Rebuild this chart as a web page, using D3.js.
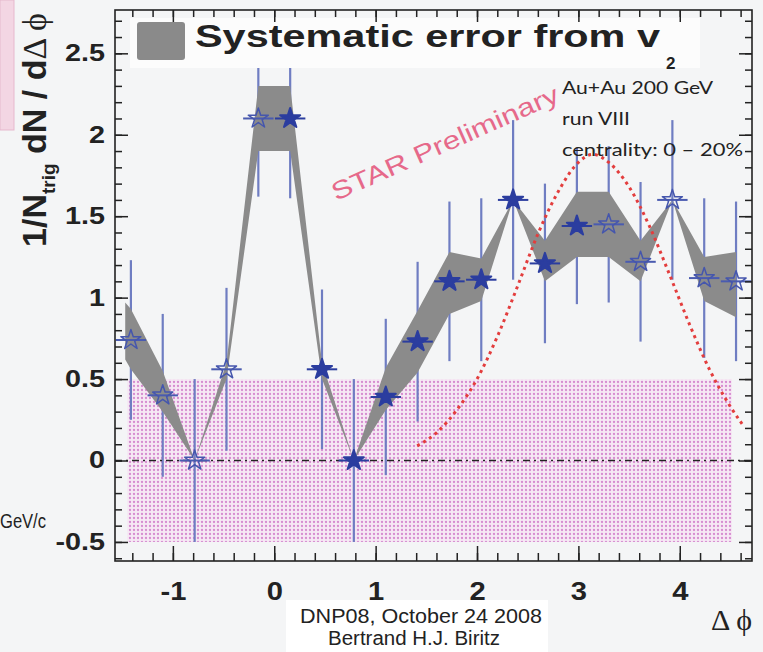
<!DOCTYPE html>
<html>
<head>
<meta charset="utf-8">
<script src="https://cdn.jsdelivr.net/npm/d3@7"></script>
<style>
  body { margin: 0; background: #f4f5f6; }
  svg { display: block; }
</style>
</head>
<body>
<div id="chart"></div>
<script>
const width = 763;
const height = 652;

// measured points (filled stars) and their reflections (open stars)
const phiFilled = [0.157, 0.471, 0.785, 1.100, 1.414, 1.728, 2.042, 2.356, 2.670, 2.985];
const valFilled = [2.10, 0.56, 0.00, 0.39, 0.73, 1.10, 1.11, 1.60, 1.21, 1.44];
const errFilled = [0.49, 0.49, 0.50, 0.48, 0.49, 0.49, 0.50, 0.49, 0.49, 0.48];

const phiOpen = [-1.414, -1.100, -0.785, -0.471, -0.157, 3.299, 3.613, 3.927, 4.241, 4.555];
const valOpen = [0.74, 0.40, 0.00, 0.56, 2.10, 1.45, 1.22, 1.60, 1.12, 1.10];
const errOpen = [0.49, 0.50, 0.50, 0.50, 0.48, 0.48, 0.49, 0.49, 0.49, 0.49];

// systematic band from v2
const bandPhi = [-1.47, -1.414, -1.100, -0.785, -0.471, -0.157, 0.157, 0.471, 0.785, 1.100, 1.414, 1.728, 2.042, 2.356, 2.670, 2.985, 3.299, 3.613, 3.927, 4.241, 4.555];
const bandLo  = [0.62, 0.56, 0.30, 0.00, 0.50, 1.90, 1.90, 0.50, 0.00, 0.31, 0.54, 0.90, 0.98, 1.60, 1.10, 1.25, 1.25, 1.10, 1.60, 0.98, 0.88];
const bandHi  = [0.97, 0.93, 0.55, 0.00, 0.60, 2.30, 2.30, 0.60, 0.00, 0.57, 0.92, 1.28, 1.24, 1.60, 1.35, 1.65, 1.65, 1.35, 1.60, 1.25, 1.28];

// red dotted curve
const curvePhi = [1.41, 1.6, 1.8, 2.0, 2.2, 2.4, 2.6, 2.8, 3.0, 3.14, 3.3, 3.5, 3.7, 3.9, 4.1, 4.3, 4.5, 4.62];
const curveVal = [0.09, 0.17, 0.31, 0.50, 0.76, 1.07, 1.39, 1.65, 1.83, 1.88, 1.83, 1.68, 1.44, 1.14, 0.83, 0.55, 0.33, 0.22];

// ZYAM box
const boxPhi = [-1.45, 4.515];
const boxVal = [-0.5, 0.5];

const xTicks = [-1, 0, 1, 2, 3, 4];
const yTicks = [-0.5, 0, 0.5, 1, 1.5, 2, 2.5];
const infoLines = ['Au+Au 200 GeV', 'run VIII', 'centrality: 0 \u2013 20%'];

const pLeft = 115, pRight = 752, pTop = 10, pBottom = 561;
const halfBin = 0.15;

const x = d3.scaleLinear().domain([-Math.PI / 2, 3 * Math.PI / 2]).range([pLeft, pRight]);
const y = d3.scaleLinear().domain([-0.617, 2.766]).range([pBottom, pTop]);

const svg = d3.select('#chart')
    .append('svg')
    .attr('width', width)
    .attr('height', height);

svg.append('rect').attr('width', width).attr('height', height).attr('fill', '#f4f5f6');

// slide leftovers on the left side
svg.append('rect').attr('x', 0).attr('y', 0).attr('width', 14).attr('height', 130)
    .attr('fill', '#f3d6e3').attr('stroke', '#e6b9cd');
svg.append('text').attr('x', 0).attr('y', 528)
    .attr('font-family', 'Liberation Sans, Arial, sans-serif').attr('font-size', 20)
    .attr('textLength', 46).attr('lengthAdjust', 'spacingAndGlyphs')
    .attr('fill', '#222').text('GeV/c');

const defs = svg.append('defs');
const pat = defs.append('pattern').attr('id', 'dots')
    .attr('patternUnits', 'userSpaceOnUse').attr('width', 4).attr('height', 4);
pat.append('rect').attr('width', 4).attr('height', 4).attr('fill', '#f6e8f4');
pat.append('circle').attr('cx', 2).attr('cy', 2).attr('r', 1.15).attr('fill', '#d68cd0');

defs.append('clipPath').attr('id', 'frame').append('rect')
    .attr('x', pLeft).attr('y', pTop).attr('width', pRight - pLeft).attr('height', pBottom - pTop);

const plot = svg.append('g').attr('clip-path', 'url(#frame)');

// ZYAM box
plot.append('rect')
    .attr('x', x(boxPhi[0])).attr('y', y(boxVal[1]))
    .attr('width', x(boxPhi[1]) - x(boxPhi[0]))
    .attr('height', y(boxVal[0]) - y(boxVal[1]))
    .attr('fill', 'url(#dots)');

const points = phiFilled.map((p, i) => ({ phi: p, v: valFilled[i], e: errFilled[i], open: false }))
    .concat(phiOpen.map((p, i) => ({ phi: p, v: valOpen[i], e: errOpen[i], open: true })));

// vertical error bars
plot.selectAll('line.err')
    .data(points)
    .join('line')
    .attr('class', 'err')
    .attr('x1', d => x(d.phi)).attr('x2', d => x(d.phi))
    .attr('y1', d => y(d.v - d.e)).attr('y2', d => y(d.v + d.e))
    .attr('stroke', '#6f7dc2').attr('stroke-width', 2.2);

// systematic band
const band = bandPhi.map((p, i) => ({ phi: p, lo: bandLo[i], hi: bandHi[i] }));
plot.append('path')
    .datum(band)
    .attr('d', d3.area().x(d => x(d.phi)).y0(d => y(d.lo)).y1(d => y(d.hi)))
    .attr('fill', '#8b8b8b');

// zero line
plot.append('line')
    .attr('x1', x(-Math.PI / 2)).attr('x2', x(3 * Math.PI / 2))
    .attr('y1', y(0)).attr('y2', y(0))
    .attr('stroke', '#222').attr('stroke-width', 1.6)
    .attr('stroke-dasharray', '7,4,2,4');

// red dotted curve
plot.append('path')
    .datum(curvePhi.map((p, i) => [p, curveVal[i]]))
    .attr('d', d3.line().x(d => x(d[0])).y(d => y(d[1])).curve(d3.curveMonotoneX))
    .attr('fill', 'none')
    .attr('stroke', '#e33d3d')
    .attr('stroke-width', 3)
    .attr('stroke-dasharray', '3,4');

// horizontal bars and stars
plot.selectAll('line.herr')
    .data(points)
    .join('line')
    .attr('class', 'herr')
    .attr('x1', d => x(d.phi - halfBin)).attr('x2', d => x(d.phi + halfBin))
    .attr('y1', d => y(d.v)).attr('y2', d => y(d.v))
    .attr('stroke', d => d.open ? '#4a5bb0' : '#2b3d9f').attr('stroke-width', 2);

const star = d3.symbol().type(d3.symbolStar).size(125);
plot.selectAll('path.star')
    .data(points)
    .join('path')
    .attr('class', 'star')
    .attr('transform', d => `translate(${x(d.phi)},${y(d.v)})`)
    .attr('d', star)
    .attr('fill', d => d.open ? 'none' : '#2b3d9f')
    .attr('stroke', d => d.open ? '#4556ad' : '#2b3d9f')
    .attr('stroke-width', d => d.open ? 1.5 : 2)
    .attr('stroke-linejoin', 'round');

// legend
svg.append('rect').attr('x', 130).attr('y', 18).attr('width', 570).attr('height', 50).attr('fill', '#fcfcfc');
svg.append('rect').attr('x', 137).attr('y', 22).attr('width', 48).attr('height', 38).attr('rx', 3)
    .attr('fill', '#8a8a8a');
svg.append('text')
    .attr('x', 195).attr('y', 47)
    .attr('font-family', 'Liberation Sans, Arial, sans-serif')
    .attr('font-weight', 'bold').attr('font-size', 31)
    .attr('fill', '#222')
    .attr('textLength', 465).attr('lengthAdjust', 'spacingAndGlyphs')
    .text('Systematic error from v');
svg.append('text')
    .attr('x', 666).attr('y', 69)
    .attr('font-family', 'Liberation Sans, Arial, sans-serif')
    .attr('font-weight', 'bold').attr('font-size', 17)
    .attr('fill', '#222').text('2');

// STAR Preliminary
svg.append('text')
    .attr('transform', 'translate(336,201) rotate(-24)')
    .attr('font-family', 'Liberation Sans, Arial, sans-serif')
    .attr('font-size', 25).attr('fill', '#e6698a')
    .attr('textLength', 246).attr('lengthAdjust', 'spacingAndGlyphs')
    .text('STAR Preliminary');

// info text
svg.selectAll('text.info')
    .data(infoLines)
    .join('text')
    .attr('class', 'info')
    .attr('x', 562)
    .attr('y', (d, i) => 94 + i * 31)
    .attr('font-family', 'Lato, Open Sans, sans-serif')
    .attr('font-size', 17).attr('fill', '#222')
    .attr('textLength', (d, i) => [151, 68, 181][i]).attr('lengthAdjust', 'spacingAndGlyphs')
    .text(d => d);

// axes
const axisColor = '#222';
function styleAxis(g) {
    g.selectAll('path.domain').remove();
    g.selectAll('line').attr('stroke', axisColor).attr('stroke-width', 1.5);
}
const xMinor = d3.range(-1.4, 4.75, 0.2).map(v => +v.toFixed(1));
const yMinor = d3.range(-0.6, 2.75, 0.1).map(v => +v.toFixed(1));
const hyphen = f => d => f(d).replace('\u2212', '-');

svg.append('g').attr('transform', `translate(0,${pBottom})`)
    .call(d3.axisBottom(x).tickValues(xMinor).tickSize(-8).tickFormat('')).call(styleAxis);
svg.append('g').attr('transform', `translate(0,${pTop})`)
    .call(d3.axisTop(x).tickValues(xMinor).tickSize(-7).tickFormat('')).call(styleAxis);
svg.append('g').attr('transform', `translate(${pLeft},0)`)
    .call(d3.axisLeft(y).tickValues(yMinor).tickSize(-7).tickFormat('')).call(styleAxis);
svg.append('g').attr('transform', `translate(${pRight},0)`)
    .call(d3.axisRight(y).tickValues(yMinor).tickSize(-7).tickFormat('')).call(styleAxis);
svg.append('g').attr('transform', `translate(0,${pTop})`)
    .call(d3.axisTop(x).tickValues(xTicks).tickSize(-12).tickFormat('')).call(styleAxis);
svg.append('g').attr('transform', `translate(${pRight},0)`)
    .call(d3.axisRight(y).tickValues(yTicks).tickSize(-13).tickFormat('')).call(styleAxis);

const xAxis = svg.append('g').attr('transform', `translate(0,${pBottom})`)
    .call(d3.axisBottom(x).tickValues(xTicks).tickSize(-15).tickPadding(14).tickFormat(hyphen(d3.format('d'))))
    .call(styleAxis);
const yAxis = svg.append('g').attr('transform', `translate(${pLeft},0)`)
    .call(d3.axisLeft(y).tickValues(yTicks).tickSize(-13).tickPadding(10)
        .tickFormat(hyphen(d => Number.isInteger(d) ? d3.format('d')(d) : d3.format('.1f')(d))))
    .call(styleAxis);

function stretch(sel, k) {
    sel.each(function () {
        const w = this.getComputedTextLength();
        d3.select(this).attr('textLength', w * k).attr('lengthAdjust', 'spacingAndGlyphs');
    });
}
xAxis.selectAll('text')
    .attr('font-family', 'Liberation Sans, Arial, sans-serif')
    .attr('font-weight', 'bold').attr('font-size', 26).attr('fill', '#222')
    .attr('dy', '0.95em').call(stretch, 1.12);
yAxis.selectAll('text')
    .attr('font-family', 'Liberation Sans, Arial, sans-serif')
    .attr('font-weight', 'bold').attr('font-size', 23).attr('fill', '#222')
    .call(stretch, 1.25);

svg.append('rect')
    .attr('x', pLeft).attr('y', pTop).attr('width', pRight - pLeft).attr('height', pBottom - pTop)
    .attr('fill', 'none').attr('stroke', axisColor).attr('stroke-width', 1.6);

// y title
const yTitle = svg.append('text')
    .attr('transform', 'translate(46,130) rotate(-90)')
    .attr('text-anchor', 'middle')
    .attr('font-family', 'Liberation Sans, Arial, sans-serif')
    .attr('font-weight', 'bold').attr('font-size', 34).attr('fill', '#222');
yTitle.append('tspan').text('1/N');
yTitle.append('tspan').attr('font-size', 19).attr('dy', 9).text('trig');
yTitle.append('tspan').attr('dy', -9).text(' dN / d');
yTitle.append('tspan').attr('font-family', 'Liberation Serif, serif').attr('font-weight', 'normal').text('\u0394 \u03d5');

// x title
svg.append('text')
    .attr('x', 752).attr('y', 630).attr('text-anchor', 'end')
    .attr('font-family', 'Liberation Serif, serif')
    .attr('font-size', 30).attr('fill', '#222')
    .text('\u0394 \u03d5');

// footer
svg.append('rect').attr('x', 286).attr('y', 600).attr('width', 262).attr('height', 52).attr('fill', '#ffffff');
svg.append('text').attr('x', 421).attr('y', 623).attr('text-anchor', 'middle')
    .attr('font-family', 'Liberation Sans, Arial, sans-serif').attr('font-size', 20).attr('fill', '#222')
    .attr('textLength', 242).attr('lengthAdjust', 'spacingAndGlyphs')
    .text('DNP08, October 24 2008');
svg.append('text').attr('x', 414).attr('y', 645).attr('text-anchor', 'middle')
    .attr('font-family', 'Liberation Sans, Arial, sans-serif').attr('font-size', 20).attr('fill', '#222')
    .attr('textLength', 172).attr('lengthAdjust', 'spacingAndGlyphs')
    .text('Bertrand H.J. Biritz');
</script>
</body>
</html>
